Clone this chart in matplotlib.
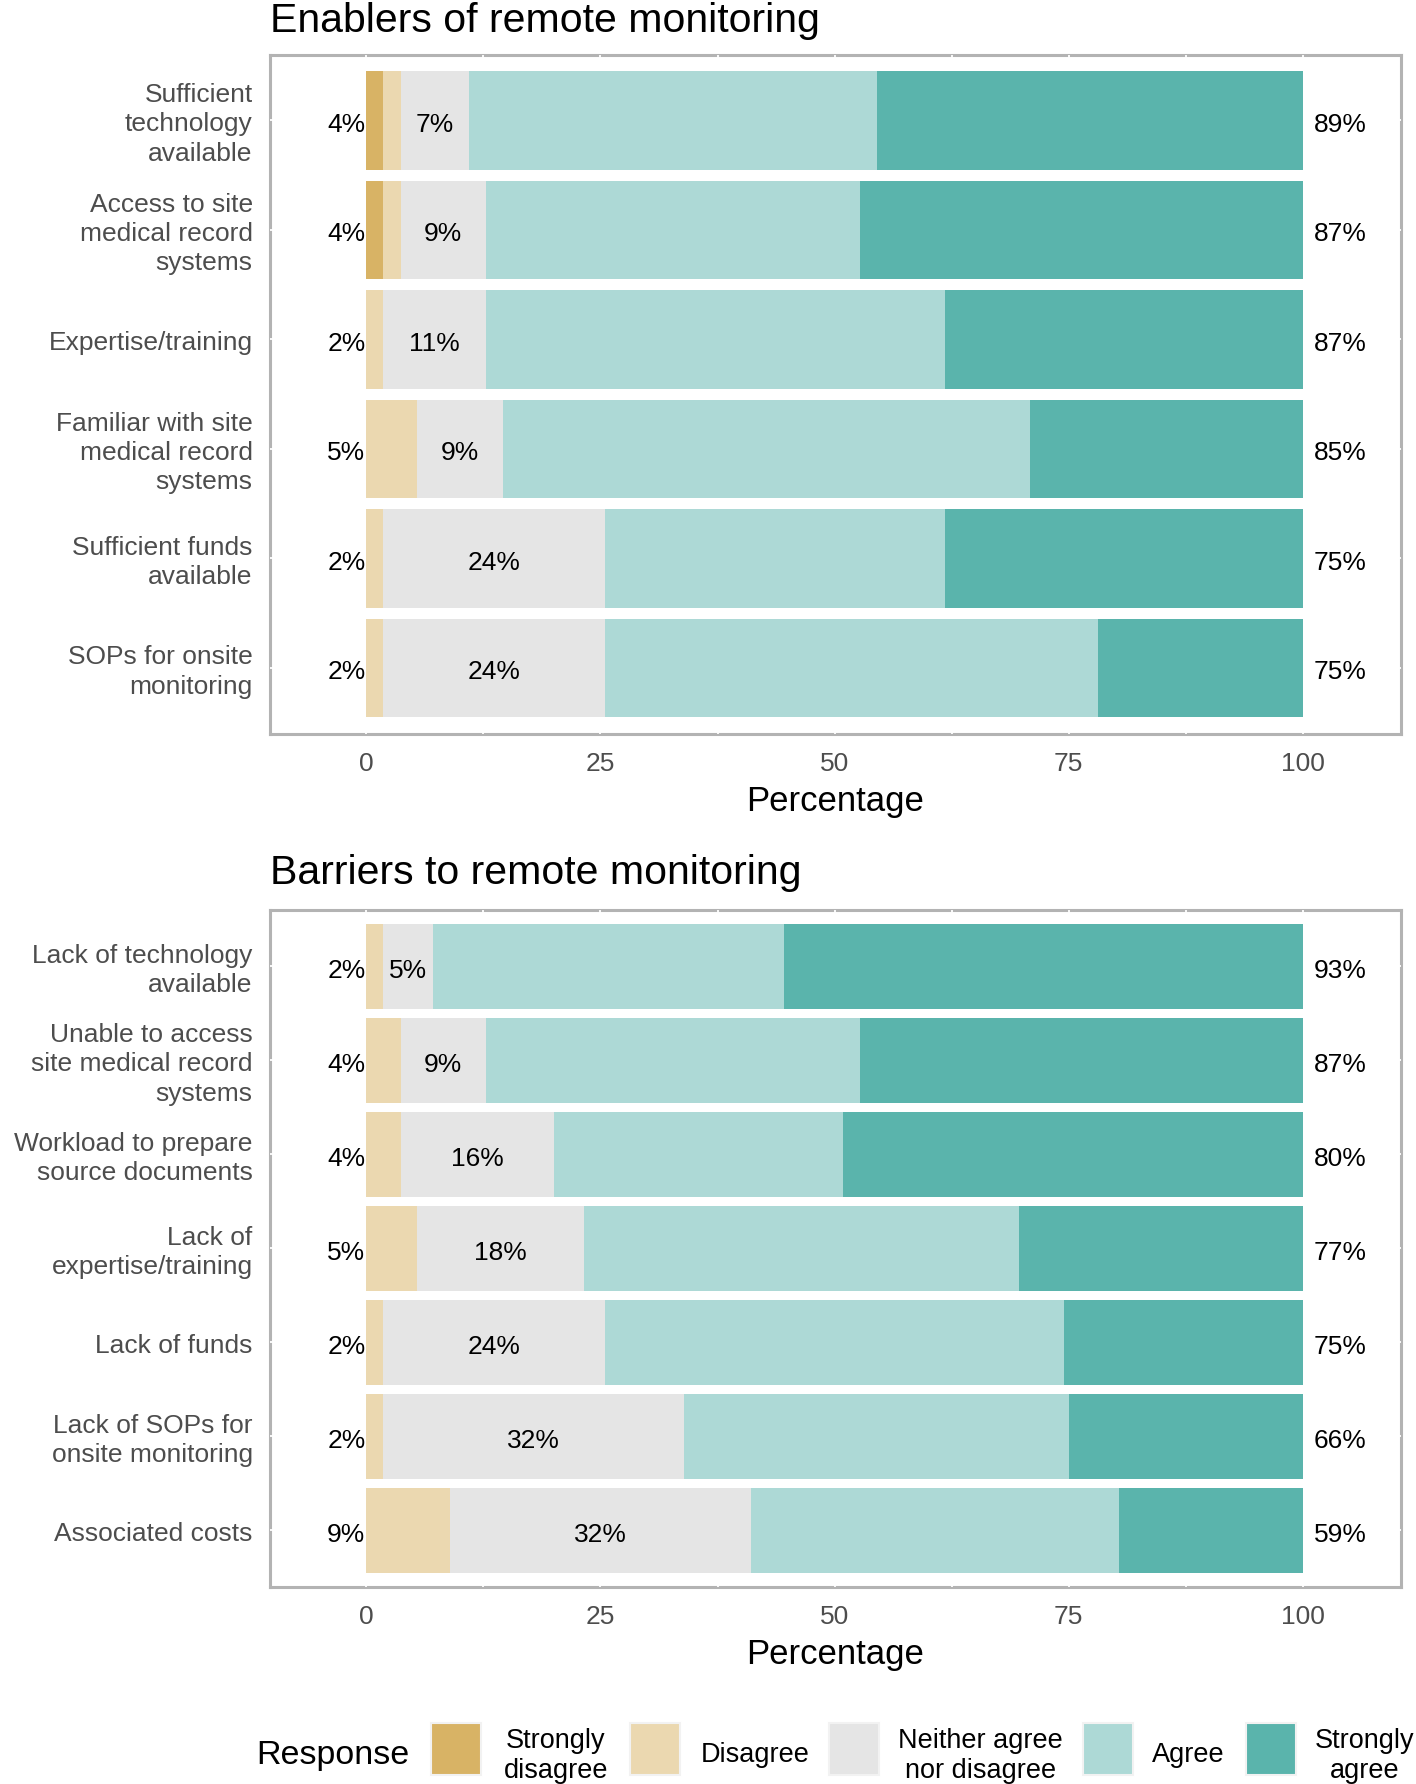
import matplotlib
matplotlib.use("Agg")
import matplotlib.pyplot as plt
import matplotlib.transforms as mtransforms
from matplotlib.patches import Rectangle
import numpy as np

plt.rcParams['font.family'] = ['Liberation Sans', 'DejaVu Sans']

# ---------------- data ----------------
responses = ['Strongly\ndisagree', 'Disagree', 'Neither agree\nnor disagree', 'Agree', 'Strongly\nagree']
colors = ['#D8B365', '#EBD8B0', '#E5E5E5', '#ADD9D6', '#5AB4AC']

enab_title = 'Enablers of remote monitoring'
enab_items = ['Sufficient\ntechnology\navailable',
              'Access to site\nmedical record\nsystems',
              'Expertise/training',
              'Familiar with site\nmedical record\nsystems',
              'Sufficient funds\navailable',
              'SOPs for onsite\nmonitoring']
enab_sd = [1.82, 1.82, 0.00, 0.00, 0.00, 0.00]
enab_d = [1.82, 1.82, 1.82, 5.45, 1.82, 1.82]
enab_n = [7.27, 9.09, 10.91, 9.09, 23.64, 23.64]
enab_a = [43.64, 40.00, 49.09, 56.36, 36.36, 52.73]
enab_sa = [45.45, 47.27, 38.18, 29.09, 38.18, 21.82]

barr_title = 'Barriers to remote monitoring'
barr_items = ['Lack of technology\navailable',
              'Unable to access\nsite medical record\nsystems',
              'Workload to prepare\nsource documents',
              'Lack of\nexpertise/training',
              'Lack of funds',
              'Lack of SOPs for\nonsite monitoring',
              'Associated costs']
barr_sd = [0.00, 0.00, 0.00, 0.00, 0.00, 0.00, 0.00]
barr_d = [1.79, 3.64, 3.64, 5.36, 1.82, 1.79, 8.93]
barr_n = [5.36, 9.09, 16.36, 17.86, 23.64, 32.14, 32.14]
barr_a = [37.50, 40.00, 30.91, 46.43, 49.09, 41.07, 39.29]
barr_sa = [55.36, 47.27, 49.09, 30.36, 25.45, 25.00, 19.64]

x_ticks = [0, 25, 50, 75, 100]

# ---------------- figure ----------------
W, H = 1416, 1784
fig = plt.figure(figsize=(W / 100, H / 100), dpi=100)
down_txt = mtransforms.ScaledTranslation(0, -4.5 / 100, fig.dpi_scale_trans)
down_lbl = mtransforms.ScaledTranslation(0, -4.0 / 100, fig.dpi_scale_trans)


def fx(px):
    return px / W


def fy(py):
    return 1 - py / H


def pct(v):
    return '%d%%' % int(np.floor(v + 0.5))


def panel(rect, title, items, sd, d, n, a, sa, title_pad):
    ax = fig.add_axes(rect)
    k = len(items)
    y = np.arange(1, k + 1)
    segs = [np.array(sd), np.array(d), np.array(n), np.array(a), np.array(sa)]
    left = np.zeros(k)
    for vals, c in zip(segs, colors):
        ax.barh(y, vals, left=left, height=0.9, color=c, edgecolor='none', zorder=1)
        left = left + vals
    dis = segs[0] + segs[1]
    agr = segs[3] + segs[4]
    for i in range(k):
        kw = dict(va='center', fontsize=19, color='black', zorder=3,
                  transform=ax.transData + down_txt)
        ax.text(-0.1, y[i], pct(dis[i]), ha='right', **kw)
        ax.text(dis[i] + segs[2][i] / 2, y[i], pct(segs[2][i]), ha='center', **kw)
        ax.text(101.2, y[i], pct(agr[i]), ha='left', **kw)

    ax.set_xlim(-10.3, 110.5)
    ax.set_ylim(k + 0.6, 0.4)
    ax.set_xticks(x_ticks)
    ax.set_xticklabels([str(t) for t in x_ticks])
    ax.set_xticks([12.5, 37.5, 62.5, 87.5], minor=True)
    ax.set_yticks(y)
    ax.set_yticklabels(items)
    ax.tick_params(axis='both', which='both', length=0)
    ax.tick_params(axis='x', labelsize=19, labelcolor='#4D4D4D', pad=13.5)
    ax.tick_params(axis='y', labelsize=19, labelcolor='#4D4D4D', pad=12.5)
    for lbl in ax.get_yticklabels():
        lbl.set_va('center')
        lbl.set_linespacing(1.28)
        lbl.set_transform(lbl.get_transform() + down_lbl)
    ax.set_axisbelow(True)
    ax.grid(True, which='both', axis='x', color='white', lw=1.3)
    ax.grid(True, which='major', axis='y', color='white', lw=1.3)
    for s in ax.spines.values():
        s.set_color('#B3B3B3')
        s.set_linewidth(2.2)
        s.set_zorder(0.2)
    ax.set_facecolor('white')
    ax.set_xlabel('Percentage', fontsize=25, color='black', labelpad=6.5)
    ax.set_title(title, loc='left', fontsize=29.5, color='black', pad=title_pad)
    return ax


pl, pr = 270, 1401
panel([fx(pl), fy(733.6), fx(pr) - fx(pl), fy(54.6) - fy(733.6)],
      enab_title, enab_items, enab_sd, enab_d, enab_n, enab_a, enab_sa, 16.4)
panel([fx(pl), fy(1586.6), fx(pr) - fx(pl), fy(910) - fy(1586.6)],
      barr_title, barr_items, barr_sd, barr_d, barr_n, barr_a, barr_sa, 19)

# ---------------- legend ----------------
ly = 1755.5
fig.text(fx(256), fy(ly), 'Response', ha='left', va='center', fontsize=24.5, color='black')
key_x = [431, 630, 829, 1083, 1246]
lab_cx = [556, 755, 980.5, 1188.5, 1365]
for kx, cx, lab, c in zip(key_x, lab_cx, responses, colors):
    fig.add_artist(Rectangle((fx(kx), fy(1775)), fx(50), 52 / H, transform=fig.transFigure,
                             facecolor=c, edgecolor='#F2F2F2', lw=1.5))
    fig.text(fx(cx), fy(ly), lab, ha='center', va='center', multialignment='center',
             fontsize=19.5, color='black', linespacing=1.2)

fig.savefig('out.png', dpi=100)
